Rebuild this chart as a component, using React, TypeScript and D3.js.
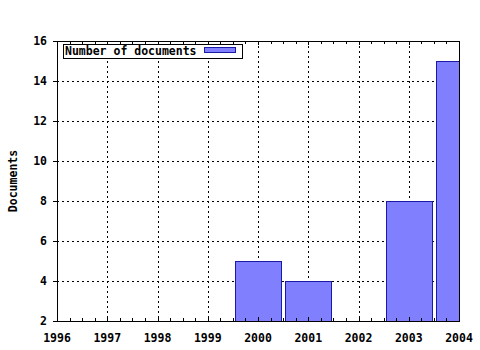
import React from "react";
import * as d3 from "d3";

const years = [2000, 2001, 2003, 2004];
const documents = [5, 4, 8, 15];
const xTicks = [1996, 1997, 1998, 1999, 2000, 2001, 2002, 2003, 2004];
const yTicks = [2, 4, 6, 8, 10, 12, 14, 16];
const seriesName = "Number of documents";
const yTitle = "Documents";

const W = 480, H = 350;
const L = 57, R = 459, T = 41, B = 321;
const FONT = "'DejaVu Sans Mono', monospace";

export default function App() {
  const x = d3.scaleLinear().domain([1996, 2004]).range([L, R]);
  const y = d3.scaleLinear().domain([2, 16]).range([B, T]);
  const px = (v: number) => Math.round(v) + 0.5;
  const barW = 0.92;
  const minor = d3.range(1996, 2004.001, 0.25);
  return (
    <svg width={W} height={H} style={{ position: "fixed", left: 0, top: 0, background: "#fff" }}>
      <defs>
        <clipPath id="plot">
          <rect x={L} y={T} width={R - L + 1} height={B - T} />
        </clipPath>
      </defs>
      <rect x={0} y={0} width={W} height={H} fill="#fff" />
      {/* grid */}
      <g stroke="#000" strokeWidth={1} strokeDasharray="2,3" shapeRendering="crispEdges">
        {xTicks.slice(1, -1).map((t) => (
          <line key={"gx" + t} x1={px(x(t))} x2={px(x(t))} y1={T} y2={B} />
        ))}
        {yTicks.slice(1, -1).map((t) => (
          <line key={"gy" + t} x1={L} x2={R} y1={px(y(t))} y2={px(y(t))} />
        ))}
      </g>
      {/* bars */}
      <g clipPath="url(#plot)" shapeRendering="crispEdges">
        {years.map((yr, i) => {
          const x0 = Math.round(x(yr - barW / 2));
          const x1 = Math.round(x(yr + barW / 2));
          const y0 = Math.round(y(documents[i]));
          return (
            <rect key={yr} x={x0 + 0.5} y={y0 + 0.5} width={x1 - x0} height={B - y0 + 2}
              fill="#8080ff" stroke="#1a1aa6" strokeWidth={1} />
          );
        })}
      </g>
      {/* frame */}
      <g stroke="#000" strokeWidth={1} shapeRendering="crispEdges" fill="none">
        <rect x={L + 0.5} y={T + 0.5} width={R - L} height={B - T} />
        {minor.map((t, i) => {
          const major = Math.abs(t - Math.round(t)) < 1e-6;
          const len = major ? 4 : 3;
          return (
            <g key={"mt" + i}>
              <line x1={px(x(t))} x2={px(x(t))} y1={B} y2={B - len} />
              <line x1={px(x(t))} x2={px(x(t))} y1={T} y2={T + len} />
            </g>
          );
        })}
        {yTicks.map((t) => (
          <line key={"yt" + t} x1={L - 4} x2={L} y1={px(y(t))} y2={px(y(t))} />
        ))}
      </g>
      {/* tick labels */}
      <g fontFamily={FONT} fontWeight="bold" fontSize={11.5} fill="#000">
        {xTicks.map((t) => (
          <text key={"xl" + t} x={x(t)} y={342} textAnchor="middle">{t}</text>
        ))}
        {yTicks.map((t) => (
          <text key={"yl" + t} x={47} y={y(t) + 4} textAnchor="end">{t}</text>
        ))}
        <text transform={`translate(17,181) rotate(-90)`} textAnchor="middle">{yTitle}</text>
      </g>
      {/* legend */}
      <g shapeRendering="crispEdges">
        <rect x={63.5} y={44.5} width={179} height={14} fill="#fff" stroke="#000" strokeWidth={1} />
        <rect x={204.5} y={47.5} width={31} height={5} fill="#8080ff" stroke="#1a1aa6" strokeWidth={1} />
      </g>
      <text x={65} y={55} fontFamily={FONT} fontWeight="bold" fontSize={11.5} fill="#000">{seriesName}</text>
    </svg>
  );
}
